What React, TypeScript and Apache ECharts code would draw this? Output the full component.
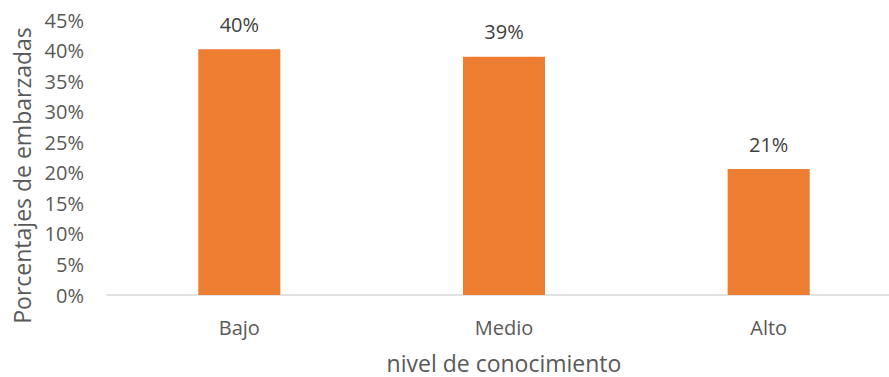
import React, { useEffect, useRef } from "react";
import * as echarts from "echarts";

const categories = ["Bajo", "Medio", "Alto"];
const values = [0.402, 0.39, 0.206];
const yTicks = [0, 0.05, 0.1, 0.15, 0.2, 0.25, 0.3, 0.35, 0.4, 0.45];
const yTitle = "Porcentajes de embarzadas";
const xTitle = "nivel de conocimiento";

export default function App() {
  const ref = useRef<HTMLDivElement>(null);
  useEffect(() => {
    const chart = echarts.init(ref.current!, null, { renderer: "svg" });
    const font = "'Open Sans', sans-serif";
    chart.setOption({
      animation: false,
      textStyle: { fontFamily: font },
      grid: {
        left: 107,
        right: -12,
        top: 20,
        bottom: 82,
        containLabel: false,
        outerBoundsMode: "none",
      },
      xAxis: {
        type: "category",
        data: categories,
        axisLine: { lineStyle: { color: "#d9d9d9", width: 1.5 } },
        axisTick: { show: false },
        axisLabel: { color: "#595959", fontSize: 20, margin: 22, fontFamily: font },
        name: xTitle,
        nameLocation: "middle",
        nameGap: 56,
        nameTextStyle: { color: "#595959", fontSize: 23, fontFamily: font },
      },
      yAxis: {
        type: "value",
        min: yTicks[0],
        max: yTicks[yTicks.length - 1],
        interval: 0.05,
        splitLine: { show: false },
        axisLine: { show: false },
        axisTick: { show: false },
        axisLabel: {
          color: "#595959",
          fontSize: 20,
          margin: 23,
          fontFamily: font,
          formatter: (v: number) => Math.round(v * 100) + "%",
        },
        name: yTitle,
        nameLocation: "middle",
        nameGap: 73,
        nameRotate: 90,
        nameTextStyle: {
          color: "#595959",
          fontSize: 23,
          fontFamily: font,
          padding: [0, 36, 0, 0],
        },
      },
      series: [
        {
          type: "bar",
          data: values,
          barWidth: "31%",
          itemStyle: { color: "#ed7d31" },
          label: {
            show: true,
            position: "top",
            distance: 15,
            color: "#404040",
            fontSize: 20,
            fontFamily: font,
            formatter: (p: any) => Math.round(p.value * 100) + "%",
          },
        },
      ],
    });
    return () => chart.dispose();
  }, []);
  return <div ref={ref} style={{ width: 889, height: 377, position: "absolute", left: 0, top: 0 }} />;
}
